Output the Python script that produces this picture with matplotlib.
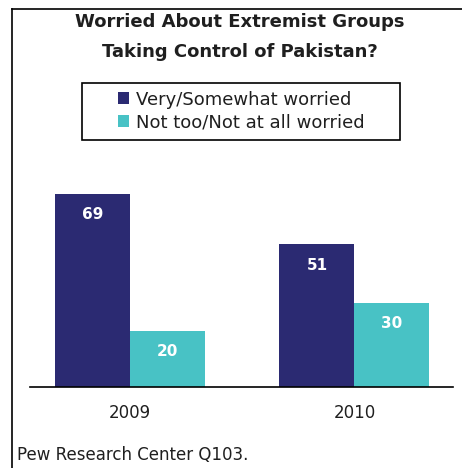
import matplotlib
matplotlib.use("Agg")
import matplotlib.pyplot as plt
from matplotlib.lines import Line2D
from matplotlib.patches import Rectangle
import numpy as np

years = ["2009", "2010"]
worried = [69, 51]
not_worried = [20, 30]
series_names = ["Very/Somewhat worried", "Not too/Not at all worried"]

navy = "#2B2A72"
teal = "#48C2C5"
ink = "#1f1f1f"

W, H = 462, 468
fig = plt.figure(figsize=(W / 100, H / 100), dpi=100)

# plot area in pixel terms
left, right, base, top = 30, 453, 387, 160
ax = fig.add_axes([left / W, (H - base) / H, (right - left) / W, (base - top) / H])

x = np.arange(len(years))
bw = 0.334
b1 = ax.bar(x - bw / 2, worried, bw, color=navy, label=series_names[0])
b2 = ax.bar(x + bw / 2, not_worried, bw, color=teal, label=series_names[1])

for bars, vals in ((b1, worried), (b2, not_worried)):
    for r, v in zip(bars, vals):
        ax.annotate(str(v), (r.get_x() + r.get_width() / 2, v), xytext=(0, -15),
                    textcoords="offset points", ha="center", va="center",
                    color="white", fontsize=11, fontweight="bold")

ax.set_xlim(-0.445, 1.439)
ax.set_ylim(0, (base - top) / 2.8)
ax.set_xticks(x)
ax.set_xticklabels(years, fontsize=12, color=ink)
ax.tick_params(axis="x", length=0, pad=12)
ax.set_yticks([])
for s in ("top", "right", "left"):
    ax.spines[s].set_visible(False)
ax.spines["bottom"].set_linewidth(1.2)

fig.text(240 / W, 1 - 22 / H, "Worried About Extremist Groups", ha="center", va="center",
         fontsize=13, fontweight="bold", color=ink)
fig.text(240 / W, 1 - 52 / H, "Taking Control of Pakistan?", ha="center", va="center",
         fontsize=13, fontweight="bold", color=ink)

# legend entries, with its box drawn separately
leg = fig.legend(handles=[b1, b2], loc="center", bbox_to_anchor=(241 / W, 1 - 111 / H),
                 frameon=False, fontsize=13, handlelength=0.65, handleheight=0.65,
                 handletextpad=0.35, labelspacing=0.25, borderpad=0, borderaxespad=0)
for t in leg.get_texts():
    t.set_color(ink)
fig.add_artist(Rectangle((82 / W, 1 - 140 / H), (400 - 82) / W, 57 / H, fill=False,
                         edgecolor="black", lw=1.2, transform=fig.transFigure))

fig.text(17 / W, 1 - 455 / H, "Pew Research Center Q103.", ha="left", va="center",
         fontsize=12, color=ink)

# outer frame: top and left rules
fig.add_artist(Line2D([12 / W, 1], [1 - 9 / H, 1 - 9 / H], color="black", lw=1.2))
fig.add_artist(Line2D([12 / W, 12 / W], [0, 1 - 9 / H], color="black", lw=1.2))

fig.savefig("out.png", dpi=100)
